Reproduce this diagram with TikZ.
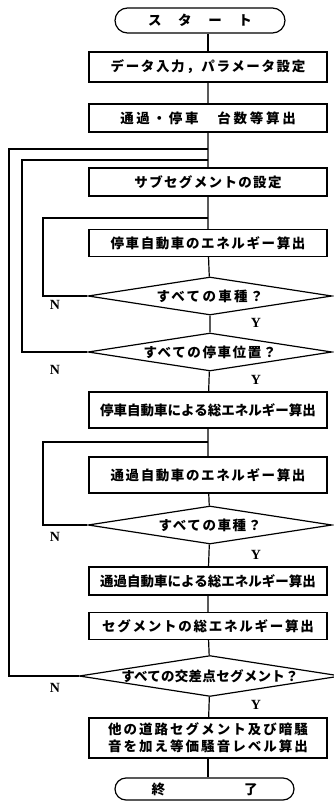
\documentclass[tikz,border=0pt]{standalone}
\usepackage{fontspec}
\newfontfamily\jp{Noto Sans CJK JP}
\setmainfont{Liberation Serif}
\usetikzlibrary{shapes.geometric}
\newcommand\LS[2]{{\addfontfeatures{LetterSpace=#1}#2}}
\tikzset{
  flow/.style={line width=1.2pt},
  jptext/.style={font=\jp\bfseries\fontsize{13.5}{17}\selectfont},
  box/.style={draw, line width=1.2pt, minimum width=238pt, inner sep=0pt, align=center, jptext},
  term/.style={draw, line width=1.2pt, inner sep=0pt, jptext},
  dec/.style={draw, diamond, line width=1.2pt, aspect=6.4, minimum width=244pt, minimum height=38pt, inner sep=0pt, jptext},
  lbl/.style={font=\bfseries\fontsize{14}{16}\selectfont}
}
\begin{document}
\begin{tikzpicture}[x=1pt,y=-1pt]
\useasboundingbox (0,0) rectangle (334,811);
\node[term, minimum width=170pt, minimum height=25pt, rounded corners=12.5pt] (start) at (200,20.5) {\makebox[104pt][s]{ス\hfill タ\hfill ー\hfill ト}};
\node[box, minimum height=30pt] (b1) at (208,67) {\LS{12}{データ入力，パラメータ設定}};
\node[box, minimum height=28pt] (b2) at (208,118) {\LS{20}{通過・停車　台数等算出}};
\node[box, minimum height=28pt] (b3) at (208,182) {\LS{10}{サブセグメントの設定}};
\node[box, minimum height=27pt] (b4) at (208,243) {\LS{12}{停車自動車のエネルギー算出}};
\node[dec] (d1) at (210,296) {\LS{17}{すべての車種？}};
\node[dec] (d2) at (210,352) {\LS{12}{すべての停車位置？}};
\node[box, minimum height=36pt] (b5) at (208,410) {停車自動車による総エネルギー算出};
\node[box, minimum height=36pt] (b6) at (208,475) {\LS{12}{通過自動車のエネルギー算出}};
\node[dec] (d3) at (210,525) {\LS{12}{すべての車種？}};
\node[box, minimum height=28pt] (b7) at (208,581) {通過自動車による総エネルギー算出};
\node[box, minimum height=27pt] (b8) at (208,626) {\LS{13}{セグメントの総エネルギー算出}};
\node[dec] (d4) at (210,676) {\LS{2}{すべての交差点セグメント？}};
\node[box, minimum height=40pt] (b9) at (208,738) {\LS{15}{他の道路セグメント及び暗騒}\\\LS{15}{音を加え等価騒音レベル算出}};
\node[term, minimum width=179pt, minimum height=22pt, rounded corners=11pt] (end) at (204.5,789) {\makebox[106pt][s]{終\hfill 了}};
% main flow
\draw[flow] (b1.north) -- (b1.north |- start.south);
\draw[flow] (b1) -- (b2) -- (b3) -- (b4) -- (d1) -- (d2) -- (b5) -- (b6) -- (d3) -- (b7) -- (b8) -- (d4) -- (b9);
\draw[flow] (b9.south) -- (b9.south |- end.north);
% loops
\coordinate (L0) at (9,149);  \coordinate (J0) at (208,149);
\coordinate (L2) at (22,160); \coordinate (J2) at (208,160);
\coordinate (L1) at (43,218); \coordinate (J1) at (208,218);
\coordinate (L3) at (43,442); \coordinate (J3) at (208,442);
\draw[flow] (d4.west) -| (L0) -- (J0);
\draw[flow] (d2.west) -| (L2) -- (J2);
\draw[flow] (d1.west) -| (L1) -- (J1);
\draw[flow] (d3.west) -| (L3) -- (J3);
% labels
\node[lbl] (n1) at (55,305) {N};
\node[lbl] (n2) at (55,370) {N};
\node[lbl] (n3) at (55,537) {N};
\node[lbl] (n4) at (55,688) {N};
\node[lbl] (y1) at (256,323) {Y};
\node[lbl] (y2) at (256,380) {Y};
\node[lbl] (y3) at (256,555) {Y};
\node[lbl] (y4) at (256,705) {Y};
\end{tikzpicture}
\end{document}
